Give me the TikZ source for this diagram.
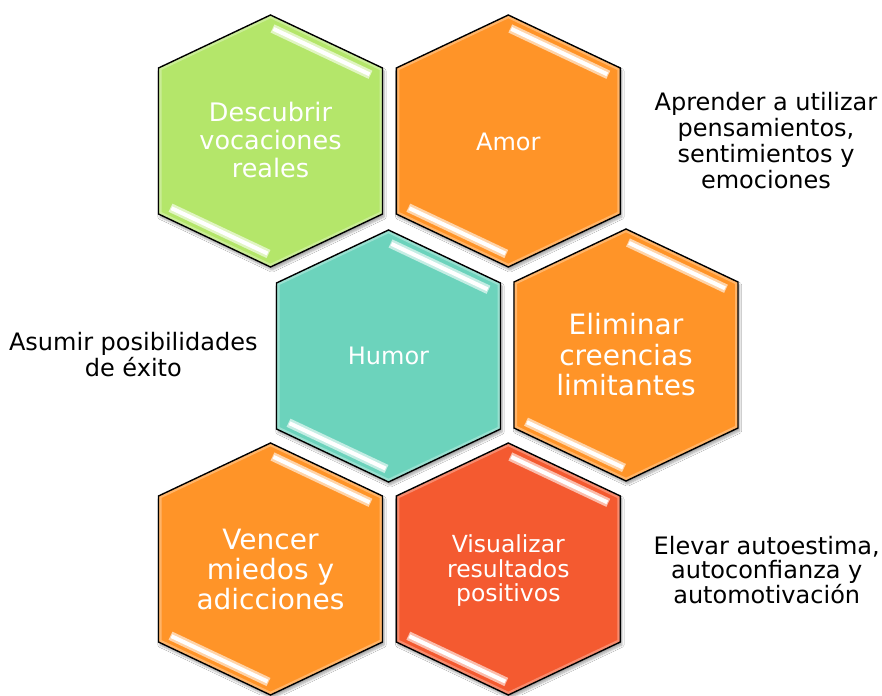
\documentclass[tikz,border=0pt]{standalone}
\usepackage{fontspec}
\setmainfont{DejaVu Sans}
\usetikzlibrary{shadows.blur}
\definecolor{hgreen}{RGB}{180,230,106}
\definecolor{horange}{RGB}{255,148,40}
\definecolor{hteal}{RGB}{108,211,188}
\definecolor{hred}{RGB}{244,90,48}
\tikzset{
  hexline/.style={draw=black, line width=1.4pt, line join=miter},
  hexfill/.style={fill=#1, blur shadow={shadow xshift=1.5pt, shadow yshift=-3pt, shadow opacity=35, shadow blur steps=6}},
  hextext/.style={text=white, align=center, inner sep=0pt},
  sidetext/.style={text=black, align=center, inner sep=0pt},
}
\newcommand{\hexcell}[3]{%
  \begin{scope}[shift={(#1,#2)}]
    \path[hexfill=#3] (0,-126) -- (112,-73) -- (112,73) -- (0,126) -- (-112,73) -- (-112,-73) -- cycle;
    \begin{scope}
      \clip (0,-126) -- (112,-73) -- (112,73) -- (0,126) -- (-112,73) -- (-112,-73) -- cycle;
      \draw[white, opacity=0.3, line width=6pt] (0,-126) -- (112,-73) -- (112,73) -- (0,126) -- (-112,73) -- (-112,-73) -- cycle;
    \end{scope}
    \draw[line width=9pt, #3!40!white] (2,-112.5) -- (100,-66.2);
    \draw[line width=4pt, white] (3,-112.1) -- (99,-66.7);
    \draw[line width=9pt, #3!40!white] (-100,66.7) -- (-2,113);
    \draw[line width=4pt, white] (-99,67.2) -- (-3,112.5);
    \draw[hexline] (0,-126) -- (112,-73) -- (112,73) -- (0,126) -- (-112,73) -- (-112,-73) -- cycle;
  \end{scope}}
\begin{document}
\begin{tikzpicture}[x=1pt, y=-1pt]
  \useasboundingbox (0,0) rectangle (882,695);
  \fill[white] (0,0) rectangle (882,695);
  % top row
  \hexcell{270.5}{141}{hgreen}
  \hexcell{508.3}{141}{horange}
  % middle row
  \hexcell{388.5}{356}{hteal}
  \hexcell{626}{355}{horange}
  % bottom row
  \hexcell{270.5}{569}{horange}
  \hexcell{508.3}{569}{hred}
  % texts in hexagons
  \node[hextext, font=\fontsize{25.5}{28}\selectfont] (descubrir) at (270.5,140) {Descubrir\\vocaciones\\reales};
  \node[hextext, font=\fontsize{24}{26}\selectfont] (amor) at (508.3,141.5) {Amor};
  \node[hextext, font=\fontsize{24}{26}\selectfont] (humor) at (388.5,356) {Humor};
  \node[hextext, font=\fontsize{28}{30.5}\selectfont] (eliminar) at (626,355) {Eliminar\\creencias\\limitantes};
  \node[hextext, font=\fontsize{28}{30}\selectfont] (vencer) at (270.5,569.5) {Vencer\\miedos y\\adicciones};
  \node[hextext, font=\fontsize{23.5}{24.5}\selectfont] (visualizar) at (508.3,571) {Visualizar\\resultados\\positivos};
  % side texts
  \node[sidetext, font=\fontsize{24}{26}\selectfont] (aprender) at (766,141) {Aprender a utilizar\\pensamientos,\\sentimientos y\\emociones};
  \node[sidetext, font=\fontsize{24}{22.5}\selectfont] (asumir) at (133.3,354.5) {Asumir posibilidades\\de éxito};
  \node[sidetext, font=\fontsize{24}{24.5}\selectfont] (elevar) at (766.7,569.7) {Elevar autoestima,\\autoconfianza y\\automotivación};
\end{tikzpicture}
\end{document}
